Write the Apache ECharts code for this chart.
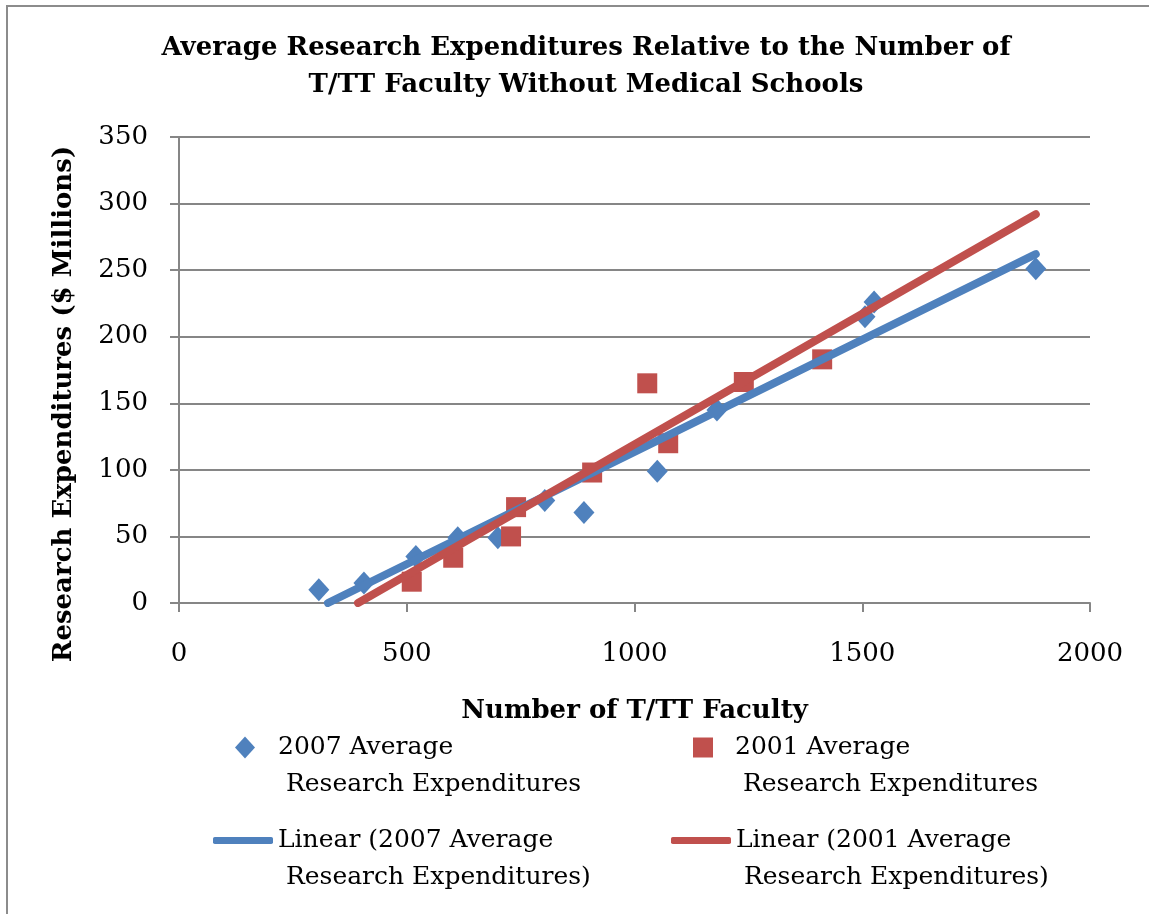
<!DOCTYPE html>
<html>
<head>
<meta charset="utf-8">
<script src="https://cdn.jsdelivr.net/npm/echarts@6/dist/echarts.min.js"></script>
<style>
  html, body { margin: 0; padding: 0; background: #fff; }
  #wrap { position: relative; width: 1149px; height: 914px; }
  #chart { width: 1149px; height: 914px; }
  #frame {
    position: absolute; left: 6px; top: 5px; right: -10px; bottom: -10px;
    border-left: 2px solid #8c8c8c; border-top: 2px solid #8c8c8c;
    pointer-events: none;
  }
</style>
</head>
<body>
<div id="wrap">
  <div id="chart"></div>
  <div id="frame"></div>
</div>
<script>
// values
const faculty2007 = [307, 406, 520, 612, 700, 803, 889, 1050, 1181, 1506, 1526, 1881];
const research2007 = [10, 15, 35, 49, 49, 77, 68, 99, 145, 215, 226, 251];
const faculty2001 = [511, 602, 729, 740, 907, 1028, 1074, 1240, 1412];
const research2001 = [16, 34, 50, 72, 98, 165, 120, 166, 183];
// trendline end points (as drawn in the picture)
const trend2007 = [[327, 0], [1881, 262]];
const trend2001 = [[393, 0], [1881, 292]];
const xTicks = [0, 500, 1000, 1500, 2000];
const yTicks = [0, 50, 100, 150, 200, 250, 300, 350];

const blue = '#4F81BD';
const red = '#C0504D';
const font = '"DejaVu Serif", serif';

const names = [
  '2007 Average Research Expenditures',
  '2001 Average Research Expenditures',
  'Linear (2007 Average Research Expenditures)',
  'Linear (2001 Average Research Expenditures)'
];
// leading empty line keeps the first text line level with the icon
const legendLabels = [
  '\n2007 Average\n Research Expenditures',
  '\n2001 Average\n Research Expenditures',
  '\nLinear (2007 Average\n Research Expenditures)',
  '\nLinear (2001 Average\n Research Expenditures)'
];

function zip(xs, ys) {
  return xs.map((x, i) => [x, ys[i]]);
}

function legendFor(i, left, top, w, h, padLeft, icon) {
  return {
    data: [{ name: names[i], icon: icon }],
    left: left,
    top: top,
    padding: 0,
    itemWidth: w,
    itemHeight: h,
    formatter: () => legendLabels[i],
    textStyle: {
      fontFamily: font,
      fontSize: 25,
      color: '#000',
      lineHeight: 37,
      padding: [0, 0, 0, padLeft]
    }
  };
}

const chart = echarts.init(document.getElementById('chart'));
chart.setOption({
  animation: false,
  backgroundColor: '#fff',
  title: {
    text: 'Average Research Expenditures Relative to the Number of\nT/TT Faculty Without Medical Schools',
    left: 581,
    textAlign: 'center',
    top: 25,
    textStyle: {
      fontFamily: font,
      fontWeight: 'bold',
      fontSize: 26,
      lineHeight: 37,
      color: '#000'
    }
  },
  legend: [
    legendFor(0, 235, 692, 20, 22, 18, 'diamond'),
    legendFor(1, 693, 692, 20, 20, 17, 'rect'),
    legendFor(2, 213, 785, 60, 7, 0, 'roundRect'),
    legendFor(3, 671, 785, 60, 7, 0, 'roundRect')
  ],
  grid: { left: 179, right: 59, top: 137, bottom: 311 },
  xAxis: {
    type: 'value',
    min: xTicks[0],
    max: xTicks[xTicks.length - 1],
    interval: 500,
    name: 'Number of T/TT Faculty',
    nameLocation: 'middle',
    nameGap: 95,
    nameTextStyle: { fontFamily: font, fontWeight: 'bold', fontSize: 26, color: '#000' },
    axisLine: { show: true, lineStyle: { color: '#868686', width: 2 } },
    axisTick: { show: true, length: 9, lineStyle: { color: '#868686', width: 2 } },
    axisLabel: { fontFamily: font, fontSize: 26, color: '#000', margin: 38, formatter: v => String(v) },
    splitLine: { show: false }
  },
  yAxis: {
    type: 'value',
    min: yTicks[0],
    max: yTicks[yTicks.length - 1],
    interval: 50,
    name: 'Research Expenditures ($ Millions)',
    nameLocation: 'middle',
    nameGap: 102,
    nameTextStyle: { fontFamily: font, fontWeight: 'bold', fontSize: 26, color: '#000', padding: [0, 68, 0, 0] },
    axisLine: { show: true, lineStyle: { color: '#868686', width: 2 } },
    axisTick: { show: true, length: 9, lineStyle: { color: '#868686', width: 2 } },
    axisLabel: { fontFamily: font, fontSize: 26, color: '#000', margin: 31, formatter: v => String(v) },
    splitLine: { show: true, lineStyle: { color: '#868686', width: 2 } }
  },
  series: [
    {
      name: names[0],
      type: 'scatter',
      symbol: 'diamond',
      symbolSize: [21, 23],
      itemStyle: { color: blue, opacity: 1 },
      data: zip(faculty2007, research2007),
      z: 3
    },
    {
      name: names[1],
      type: 'scatter',
      symbol: 'rect',
      symbolSize: 20,
      itemStyle: { color: red, opacity: 1 },
      data: zip(faculty2001, research2001),
      z: 3
    },
    {
      name: names[2],
      type: 'line',
      symbol: 'none',
      lineStyle: { color: blue, width: 8, cap: 'round' },
      itemStyle: { color: blue },
      data: trend2007,
      z: 4
    },
    {
      name: names[3],
      type: 'line',
      symbol: 'none',
      lineStyle: { color: red, width: 8, cap: 'round' },
      itemStyle: { color: red },
      data: trend2001,
      z: 4
    }
  ]
});
</script>
</body>
</html>
